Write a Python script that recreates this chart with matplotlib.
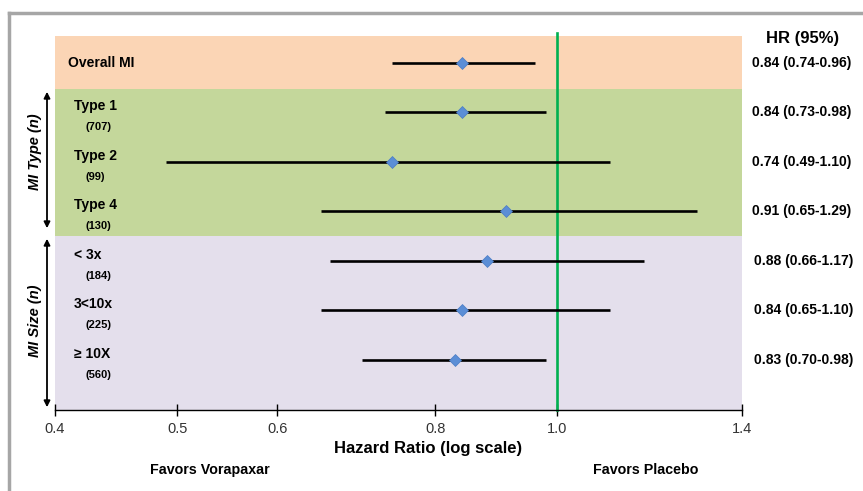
import matplotlib
matplotlib.use("Agg")
import matplotlib.pyplot as plt
from matplotlib.ticker import FixedLocator, FixedFormatter, NullLocator
from matplotlib.lines import Line2D
from matplotlib.patches import FancyArrowPatch
import matplotlib.transforms as mtransforms

plt.rcParams['font.family'] = ['Liberation Sans', 'DejaVu Sans']

# ---- data ----
labels = ["Overall MI", "Type 1", "Type 2", "Type 4", "< 3x", "3<10x", "\u2265 10X"]
counts = ["", "(707)", "(99)", "(130)", "(184)", "(225)", "(560)"]
hr = [0.84, 0.84, 0.74, 0.91, 0.88, 0.84, 0.83]
lo = [0.74, 0.73, 0.49, 0.65, 0.66, 0.65, 0.70]
hi = [0.96, 0.98, 1.10, 1.29, 1.17, 1.10, 0.98]
hr_text = ["0.84 (0.74-0.96)", "0.84 (0.73-0.98)", "0.74 (0.49-1.10)",
           "0.91 (0.65-1.29)", "0.88 (0.66-1.17)", "0.84 (0.65-1.10)",
           "0.83 (0.70-0.98)"]
xticks = [0.4, 0.5, 0.6, 0.8, 1.0, 1.4]
xtick_labels = ["0.4", "0.5", "0.6", "0.8", "1.0", "1.4"]
group_names = ["MI Type (n)", "MI Size (n)"]

W, H = 863, 491
fig = plt.figure(figsize=(W / 100, H / 100), dpi=100)

def px_x(x):
    return x / W

def px_y(y):
    return 1 - y / H

# gray frame
fig.add_artist(Line2D([px_x(9), px_x(9)], [0, px_y(13)], color="#A6A6A6", lw=2.5))
fig.add_artist(Line2D([px_x(9), 1], [px_y(13), px_y(13)], color="#A6A6A6", lw=2.5))

ax_l, ax_r, ax_t, ax_b = 55, 742, 36, 410
ax = fig.add_axes([px_x(ax_l), px_y(ax_b), (ax_r - ax_l) / W, (ax_b - ax_t) / H])
ax.set_xscale("log")
ax.set_xlim(0.4, 1.4)
ax.set_ylim(7.01, -0.545)

# bands
ax.axhspan(-0.545, 0.525, color="#FBD5B5", lw=0, zorder=0)
ax.axhspan(0.525, 3.5, color="#C4D79B", lw=0, zorder=0)
ax.axhspan(3.5, 7.01, color="#E4DFEC", lw=0, zorder=0)

# reference line
ax.plot([1.0, 1.0], [7.01, -0.61], color="#00B050", lw=1.9, zorder=2, clip_on=False)

ypos = list(range(len(labels)))
for i in ypos:
    ax.plot([lo[i], hi[i]], [i, i], color="black", lw=1.9, solid_capstyle="butt", zorder=3)
ax.plot(hr, ypos, linestyle="none", marker="D", markersize=6.5,
        color="#5B8ED6", markeredgecolor="#4A7CC4", markeredgewidth=0.5, zorder=4)

# axis styling
for s in ["left", "right", "top"]:
    ax.spines[s].set_visible(False)
ax.spines["bottom"].set_linewidth(1.0)
ax.yaxis.set_visible(False)
ax.xaxis.set_major_locator(FixedLocator(xticks))
ax.xaxis.set_major_formatter(FixedFormatter(xtick_labels))
ax.xaxis.set_minor_locator(NullLocator())
ax.tick_params(axis="x", direction="inout", length=9, width=1.0,
               labelsize=10.5, labelcolor="#333333", pad=4)
ax.set_xlabel("Hazard Ratio (log scale)", fontsize=12, fontweight="bold",
              labelpad=3)
ax.xaxis.set_label_coords((428 - ax_l) / (ax_r - ax_l), -0.083)

# row labels
trans = mtransforms.blended_transform_factory(fig.transFigure, ax.transData)
for i in ypos:
    if i == 0:
        ax.text(px_x(68), i, labels[i], transform=trans, fontsize=10,
                fontweight="bold", va="center", ha="left")
    else:
        ax.text(px_x(74), i - 0.13, labels[i], transform=trans, fontsize=10,
                fontweight="bold", va="center", ha="left")
        ax.text(px_x(85), i + 0.30, counts[i], transform=trans, fontsize=8,
                fontweight="bold", va="center", ha="left")
    hx = 752 if i < 4 else 754
    ax.text(px_x(hx), i, hr_text[i], transform=trans, fontsize=10,
            fontweight="bold", va="center", ha="left")

fig.text(px_x(803), px_y(38), "HR (95%)", fontsize=12, fontweight="bold",
         ha="center", va="center")

# group arrows and labels
for (y0, y1), yc, name in zip([(89, 231), (236, 410)], [152, 321], group_names):
    arr = FancyArrowPatch((px_x(47), px_y(y0)), (px_x(47), px_y(y1)),
                          transform=fig.transFigure, arrowstyle="<|-|>",
                          mutation_scale=9, lw=1.3, color="black")
    fig.add_artist(arr)
    fig.text(px_x(35), px_y(yc), name, rotation=90, fontsize=10.5,
             fontweight="bold", fontstyle="italic", ha="center", va="center")

fig.text(px_x(210), px_y(470), "Favors Vorapaxar", fontsize=10.3, fontweight="bold",
         ha="center", va="center")
fig.text(px_x(646), px_y(470), "Favors Placebo", fontsize=10.3, fontweight="bold",
         ha="center", va="center")

fig.savefig("out.png", dpi=100)
